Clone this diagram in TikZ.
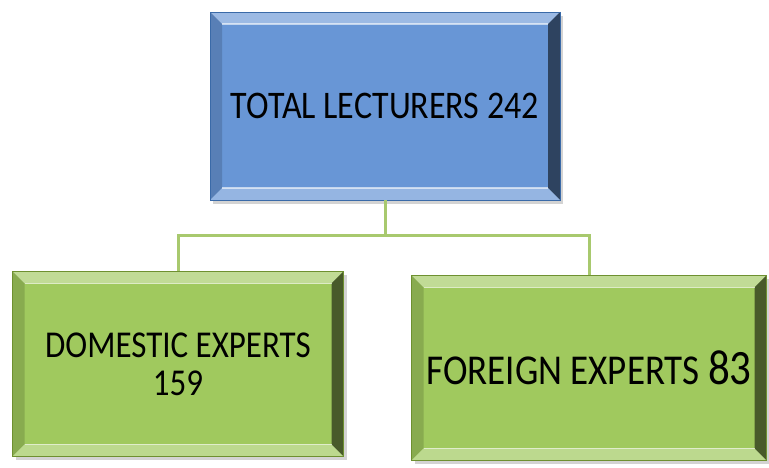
\documentclass[tikz,border=0pt]{standalone}
\usepackage{fontspec}
\setmainfont{Carlito}
\usetikzlibrary{positioning,shadows}

\definecolor{boxblue}{HTML}{6896D6}
\definecolor{edgeblue}{HTML}{3A6AA8}
\definecolor{boxgreen}{HTML}{A0C95E}
\definecolor{edgegreen}{HTML}{6E9030}
\definecolor{linkgreen}{HTML}{A8C96E}

% text in the boxes is set a little taller than wide
\newcommand{\tall}[1]{\scalebox{1}[1.15]{#1}}

\tikzset{
	bevel/.style={path picture={
		\def\pbb{path picture bounding box}
		% top, left, right and bottom faces of the bevel
		\fill[white,opacity=.35] (\pbb.north west) -- (\pbb.north east) -- ([shift={(-#1,-#1)}]\pbb.north east) -- ([shift={(#1,-#1)}]\pbb.north west) -- cycle;
		\fill[black,opacity=.15] (\pbb.north west) -- ([shift={(#1,-#1)}]\pbb.north west) -- ([shift={(#1,#1)}]\pbb.south west) -- (\pbb.south west) -- cycle;
		\fill[black,opacity=.55] (\pbb.north east) -- ([shift={(-#1,-#1)}]\pbb.north east) -- ([shift={(-#1,#1)}]\pbb.south east) -- (\pbb.south east) -- cycle;
		\fill[white,opacity=.3] (\pbb.south west) -- ([shift={(#1,#1)}]\pbb.south west) -- ([shift={(-#1,#1)}]\pbb.south east) -- (\pbb.south east) -- cycle;
		\draw[white,opacity=.6,line width=1.2pt] ([shift={(#1,-#1)}]\pbb.north west) -- ([shift={(-#1,-#1)}]\pbb.north east);
		\draw[white,opacity=.6,line width=1.2pt] ([shift={(#1,#1)}]\pbb.south west) -- ([shift={(-#1,#1)}]\pbb.south east);
	}},
	basic/.style={draw, rectangle, thin, align=center, bevel=12pt,
		drop shadow={shadow xshift=3pt, shadow yshift=-4pt, opacity=.35}},
	topbox/.style={basic, fill=boxblue, draw=edgeblue, minimum width=350pt, minimum height=188pt, font=\fontsize{34}{36}\selectfont},
	expert/.style={basic, fill=boxgreen, draw=edgegreen, minimum height=185pt},
	link/.style={draw=linkgreen, line width=3pt}
}

\begin{document}
\begin{tikzpicture}[x=1pt, y=1pt]
	\useasboundingbox (0,0) rectangle (769,-468);

	% head of the chart
	\node[topbox] (total) at (385,-106) {\tall{TOTAL LECTURERS 242}};

	% the two groups, placed under the head
	\node[expert, below=71pt of total, xshift=-207pt, minimum width=331pt,
		font=\fontsize{33}{38}\selectfont] (domestic) {\tall{DOMESTIC EXPERTS}\\\tall{159}};
	\node[expert, below=75pt of total, xshift=204pt, minimum width=355pt,
		font=\fontsize{37}{40}\selectfont] (foreign) {\tall{FOREIGN EXPERTS {\fontsize{43}{45}\selectfont 83}}};

	% lines from the head to each group
	\coordinate[below=35pt of total] (fork);
	\draw[link] (total.south) -- (fork) -| (domestic.north);
	\draw[link] (fork) -| (foreign.north);

\end{tikzpicture}
\end{document}
